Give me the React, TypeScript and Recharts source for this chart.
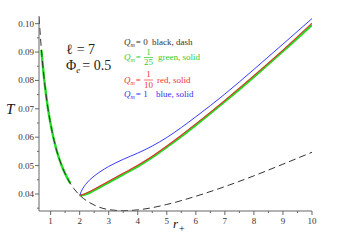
import { LineChart, Line, XAxis, YAxis } from "recharts"

// Q_m = 0 (black, dashed)
const rDash = [0.6, 0.7, 0.8, 0.9, 1.0, 1.2, 1.4, 1.6, 1.8, 2.0, 2.5, 3.0, 3.5, 4.0, 5.0, 6.0, 7.0, 8.0, 9.0, 10.0]
const tDash = [0.1024, 0.0887, 0.0785, 0.0707, 0.0646, 0.0556, 0.0495, 0.0451, 0.0419, 0.0396, 0.0361, 0.0345, 0.0341, 0.0344, 0.0363, 0.0392, 0.0426, 0.0464, 0.0505, 0.0547]

// small branch, green
const rGreenLeft = [0.68, 0.8, 0.9, 1.0, 1.2, 1.4, 1.55, 1.68]
const tGreenLeft = [0.0908, 0.0785, 0.0707, 0.0646, 0.0556, 0.0495, 0.0461, 0.0437]

// large branches
const rRight = [2.0, 2.1, 2.2, 2.35, 2.5, 2.7, 3.0, 3.5, 4.0, 4.5, 5.0, 5.5, 6.0, 7.0, 8.0, 9.0, 10.0]
const tGreen = [0.0395, 0.0396, 0.0399, 0.0405, 0.0413, 0.0424, 0.0441, 0.0469, 0.0497, 0.0529, 0.0565, 0.0603, 0.0643, 0.0726, 0.0813, 0.0903, 0.0996]
const tRed = [0.0395, 0.0398, 0.0402, 0.0409, 0.0417, 0.0428, 0.0445, 0.0473, 0.0501, 0.0533, 0.0569, 0.0607, 0.0647, 0.0730, 0.0817, 0.0907, 0.1002]
const tBlue = [0.0395, 0.0418, 0.0433, 0.0450, 0.0463, 0.0478, 0.0497, 0.0522, 0.0544, 0.0569, 0.0599, 0.0634, 0.0672, 0.0752, 0.0839, 0.0928, 0.1018]

const xTicks = [1, 1.5, 2, 2.5, 3, 3.5, 4, 4.5, 5, 5.5, 6, 6.5, 7, 7.5, 8, 8.5, 9, 9.5, 10]
const yTicks = [0.035, 0.04, 0.045, 0.05, 0.055, 0.06, 0.065, 0.07, 0.075, 0.08, 0.085, 0.09, 0.095, 0.1]

const zip = (xs: number[], ys: number[]) => xs.map((r, i) => ({ r, T: ys[i] }))

const serif = "'Liberation Serif', 'DejaVu Serif', serif"
const axisColor = "#666"

function XTick(props: any) {
  const { x, y, payload } = props
  const v = payload.value
  const major = Number.isInteger(v)
  return (
    <g>
      <line x1={x} y1={y} x2={x} y2={y + (major ? 4 : 2)} stroke={axisColor} />
      {major && (
        <text x={x} y={y + 13} textAnchor="middle" fontSize={9} fontFamily={serif} fill="#333">
          {v}
        </text>
      )}
    </g>
  )
}

function YTick(props: any) {
  const { x, y, payload } = props
  const v = payload.value
  const major = Math.abs(Math.round(v * 100) - v * 100) < 1e-6
  return (
    <g>
      <line x1={x} y1={y} x2={x - (major ? 4 : 2)} y2={y} stroke={axisColor} />
      {major && (
        <text x={x - 5} y={y + 3} textAnchor="end" fontSize={9} fontFamily={serif} fill="#333">
          {v.toFixed(2)}
        </text>
      )}
    </g>
  )
}

export default function App() {
  return (
    <div style={{ position: "absolute", left: 0, top: 0, width: 339, height: 240, background: "#fff" }}>
      <LineChart width={339} height={240} margin={{ top: 16, right: 27, bottom: 9, left: 0 }}>
        <XAxis
          type="number"
          dataKey="r"
          domain={[0.6, 10]}
          ticks={xTicks}
          tick={<XTick />}
          tickLine={false}
          tickSize={0}
          tickMargin={0}
          height={20}
          interval={0}
          stroke={axisColor}
          allowDataOverflow
        />
        <YAxis
          type="number"
          dataKey="T"
          domain={[0.034, 0.1027]}
          ticks={yTicks}
          tick={<YTick />}
          tickLine={false}
          tickSize={0}
          tickMargin={0}
          width={39}
          interval={0}
          stroke={axisColor}
          allowDataOverflow
        />
        <Line data={zip(rGreenLeft, tGreenLeft)} dataKey="T" type="monotone" stroke="#22dd22" strokeWidth={2.4} dot={false} isAnimationActive={false} />
        <Line data={zip(rRight, tGreen)} dataKey="T" type="monotone" stroke="#22dd22" strokeWidth={2.4} dot={false} isAnimationActive={false} />
        <Line data={zip(rDash, tDash)} dataKey="T" type="monotone" stroke="#333" strokeWidth={1} strokeDasharray="7 4" dot={false} isAnimationActive={false} />
        <Line data={zip(rRight, tRed)} dataKey="T" type="monotone" stroke="#e83030" strokeWidth={1.1} dot={false} isAnimationActive={false} />
        <Line data={zip(rRight, tBlue)} dataKey="T" type="monotone" stroke="#3a3aff" strokeWidth={1} dot={false} isAnimationActive={false} />
      </LineChart>
      <svg width={339} height={240} style={{ position: "absolute", left: 0, top: 0, pointerEvents: "none" }} fontFamily={serif}>
        <text x={6} y={114} fontSize={15} fontStyle="italic" fill="#111">T</text>
        <text x={173} y={228} fontSize={13} fontStyle="italic" fill="#111">
          r<tspan fontSize={10} fontStyle="normal" dx={1} dy={4}>+</tspan>
        </text>

        <text x={66} y={54} fontSize={14} fill="#222">
          ℓ<tspan dx={4}>= 7</tspan>
        </text>
        <text x={66} y={70} fontSize={14} fill="#222">
          Φ<tspan fontSize={9} fontStyle="italic" dy={3}>e</tspan>
          <tspan dx={2} dy={-3}>= 0.5</tspan>
        </text>

        <g fontSize={9}>
          <text x={124} y={45} fill="#333">
            <tspan fontStyle="italic">Q</tspan>
            <tspan fontSize={6} fontStyle="italic" dy={2}>m</tspan>
            <tspan dx={1} dy={-2}>= 0</tspan>
          </text>
          <text x={152} y={45} fill="#333">black, dash</text>

          <g fill="#33cc33">
            <text x={124} y={60}>
              <tspan fontStyle="italic">Q</tspan>
              <tspan fontSize={6} fontStyle="italic" dy={2}>m</tspan>
              <tspan dx={1} dy={-2}>=</tspan>
            </text>
            <text x={148.5} y={55} textAnchor="middle">1</text>
            <line x1={144} y1={57.5} x2={153} y2={57.5} stroke="#33cc33" strokeWidth={0.7} />
            <text x={148.5} y={65} textAnchor="middle">25</text>
            <text x={158} y={60}>green, solid</text>
          </g>

          <g fill="#ee3333">
            <text x={124} y={83}>
              <tspan fontStyle="italic">Q</tspan>
              <tspan fontSize={6} fontStyle="italic" dy={2}>m</tspan>
              <tspan dx={1} dy={-2}>=</tspan>
            </text>
            <text x={148.5} y={77} textAnchor="middle">1</text>
            <line x1={144} y1={80} x2={153} y2={80} stroke="#ee3333" strokeWidth={0.7} />
            <text x={148.5} y={88} textAnchor="middle">10</text>
            <text x={157} y={83}>red, solid</text>
          </g>

          <g fill="#3333ee">
            <text x={124} y={97}>
              <tspan fontStyle="italic">Q</tspan>
              <tspan fontSize={6} fontStyle="italic" dy={2}>m</tspan>
              <tspan dx={1} dy={-2}>= 1</tspan>
            </text>
            <text x={156} y={97}>blue, solid</text>
          </g>
        </g>
      </svg>
    </div>
  )
}
